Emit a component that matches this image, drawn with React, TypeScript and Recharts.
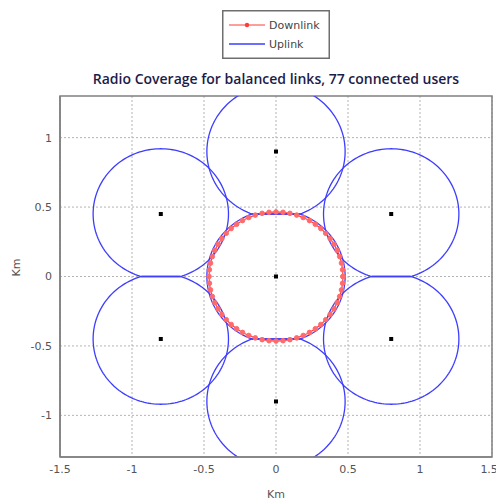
import {
  ComposedChart,
  Line,
  Scatter,
  XAxis,
  YAxis,
  CartesianGrid,
  ReferenceArea,
  Legend,
} from 'recharts';

// base station sites (km)
const siteX = [0, 0, 0, 0.8, 0.8, -0.8, -0.8];
const siteY = [0, 0.9, -0.9, 0.45, -0.45, 0.45, -0.45];
// uplink coverage radius of each cell (km)
const cellRadius = [0.48, 0.48, 0.48, 0.47, 0.47, 0.47, 0.47];
// cells that share a straight border (same column)
const sharedBorders = [[0, 1], [0, 2], [3, 4], [5, 6]];
// downlink coverage of the serving cell
const downlinkRadius = 0.465;
const downlinkMarkers = 60;

const xTicks = [-1.5, -1, -0.5, 0, 0.5, 1, 1.5];
const yTicks = [-1, -0.5, 0, 0.5, 1];

const BLUE = '#3d3dff';
const RED = '#ff3b3b';
const GRID = '#b4b4b4';
const AXIS = '#808080';
const FONT = '"DejaVu Sans", sans-serif';

type Pt = { x: number; y: number };

// circle outline of one cell, flattened where it borders a cell of the same column
const cellOutline = (i: number): Pt[] => {
  const cx = siteX[i];
  const cy = siteY[i];
  const r = cellRadius[i];
  const neighbours = sharedBorders
    .filter((b) => b.includes(i))
    .map((b) => (b[0] === i ? b[1] : b[0]));
  const pts: Pt[] = [];
  for (let a = 0; a <= 360; a += 2) {
    const t = (a * Math.PI) / 180;
    let px = cx + r * Math.cos(t);
    let py = cy + r * Math.sin(t);
    neighbours.forEach((j) => {
      const dx = siteX[j] - cx;
      const dy = siteY[j] - cy;
      const d = Math.hypot(dx, dy);
      const ux = dx / d;
      const uy = dy / d;
      const over = (px - cx) * ux + (py - cy) * uy - d / 2;
      if (over > 0) {
        px -= over * ux;
        py -= over * uy;
      }
    });
    pts.push({ x: px, y: py });
  }
  return pts;
};

const uplinkCells = siteX.map((_, i) => cellOutline(i));

const downlink: Pt[] = [];
for (let k = 0; k <= downlinkMarkers; k++) {
  const t = (k / downlinkMarkers) * 2 * Math.PI;
  downlink.push({ x: siteX[0] + downlinkRadius * Math.cos(t), y: siteY[0] + downlinkRadius * Math.sin(t) });
}

const sites = siteX.map((x, i) => ({ x, y: siteY[i] }));

const LegendBox = () => (
  <svg width={108} height={49} style={{ display: 'block' }}>
    <rect x={0.75} y={0.75} width={106.5} height={47.5} fill="#fff" stroke="#6e6e6e" strokeWidth={1.5} />
    <line x1={7} y1={15} x2={43} y2={15} stroke={RED} strokeWidth={1.2} />
    <circle cx={25} cy={15} r={2.2} fill={RED} />
    <text x={47} y={19} fontSize={11} fill="#444" fontFamily={FONT}>Downlink</text>
    <line x1={7} y1={34} x2={43} y2={34} stroke={BLUE} strokeWidth={1.3} />
    <text x={47} y={38} fontSize={11} fill="#444" fontFamily={FONT}>Uplink</text>
  </svg>
);

export default function App() {
  return (
    <div style={{ position: 'absolute', left: 0, top: 0, width: 496, height: 502, background: '#fff' }}>
      <div
        style={{
          position: 'absolute',
          left: 0,
          width: 552,
          top: 70,
          textAlign: 'center',
          fontFamily: '"Open Sans", sans-serif',
          fontWeight: 600,
          fontSize: 14,
          lineHeight: '18px',
          color: '#1c1c4a',
          whiteSpace: 'nowrap',
        }}
      >
        Radio Coverage for balanced links, 77 connected users
      </div>
      <ComposedChart width={496} height={502} margin={{ top: 96, right: 4, bottom: 0, left: 0 }}>
        <CartesianGrid stroke={GRID} strokeDasharray="2 2" horizontalValues={yTicks} verticalValues={xTicks} />
        <XAxis
          type="number"
          dataKey="x"
          domain={[-1.5, 1.5]}
          ticks={xTicks}
          allowDataOverflow
          height={45}
          stroke={AXIS}
          strokeWidth={1.5}
          tickLine={false}
          tick={{ fill: '#555', fontSize: 11, fontFamily: FONT }}
          label={{ value: 'Km', position: 'insideBottom', offset: 4, fill: '#555', fontSize: 11, fontFamily: FONT }}
        />
        <YAxis
          type="number"
          dataKey="y"
          domain={[-1.3, 1.3]}
          ticks={yTicks}
          allowDataOverflow
          width={60}
          stroke={AXIS}
          strokeWidth={1.5}
          tickLine={false}
          tick={{ fill: '#555', fontSize: 11, fontFamily: FONT }}
          label={{ value: 'Km', angle: -90, position: 'insideLeft', offset: 16, fill: '#555', fontSize: 11, fontFamily: FONT }}
        />
        <ReferenceArea x1={-1.5} x2={1.5} y1={-1.3} y2={1.3} fill="none" stroke={AXIS} strokeWidth={1.5} ifOverflow="visible" />
        <Line
          data={downlink}
          dataKey="y"
          stroke={RED}
          strokeWidth={1.2}
          dot={{ r: 2.3, fill: '#ff6a6a', stroke: '#ff6a6a', strokeWidth: 1 }}
          isAnimationActive={false}
        />
        {uplinkCells.map((cell, i) => (
          <Line
            key={i}
            data={cell}
            dataKey="y"
            stroke={BLUE}
            strokeWidth={1.3}
            dot={false}
            isAnimationActive={false}
          />
        ))}
        <Scatter
          data={sites}
          dataKey="y"
          fill="#000"
          isAnimationActive={false}
          shape={(p: any) => <rect x={p.cx - 2} y={p.cy - 2} width={4} height={4} fill="#000" />}
        />
        <Legend
          layout="vertical"
          align="center"
          verticalAlign="middle"
          wrapperStyle={{ position: 'absolute', left: 222, top: 10, width: 108 }}
          content={() => <LegendBox />}
        />
      </ComposedChart>
    </div>
  );
}
